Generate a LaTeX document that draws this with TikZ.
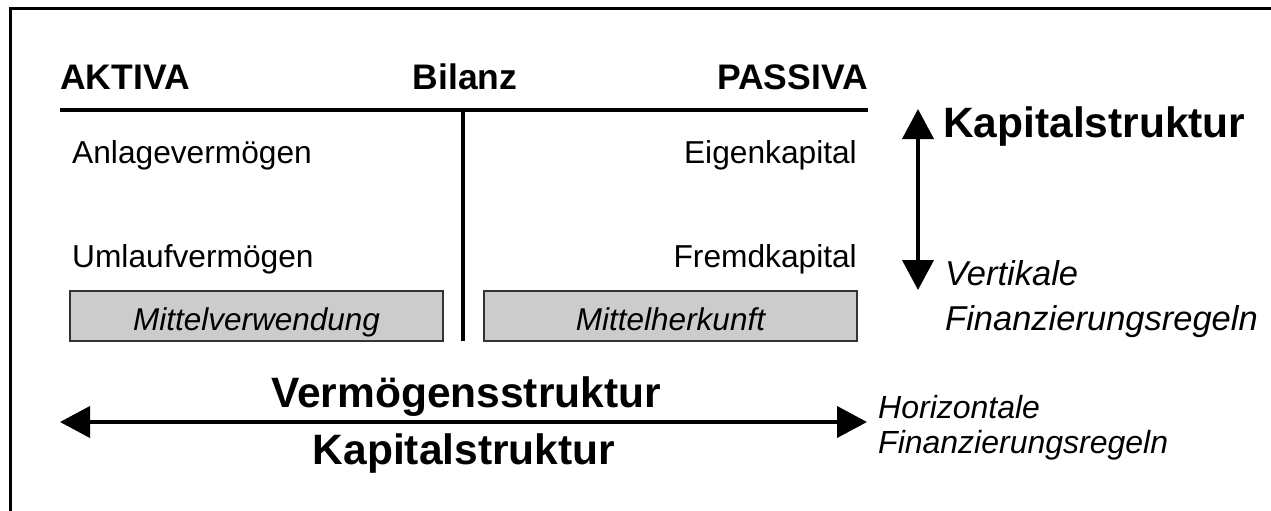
\documentclass[tikz,border=0pt]{standalone}
\usepackage{fontspec}
\setmainfont{Liberation Sans}
\usepackage{tikz}
\usetikzlibrary{arrows.meta,positioning}

\begin{document}
\begin{tikzpicture}[
    x=1pt, y=-1pt,
    head/.style={font=\fontsize{35.5}{40}\selectfont\bfseries, inner sep=0pt},
    item/.style={font=\fontsize{31.7}{36}\selectfont, inner sep=0pt},
    greybox/.style={rectangle, draw=black!80, line width=1.2pt, fill=gray!40, minimum width=373pt, minimum height=50pt, inner sep=0pt, text height=29pt, text depth=0pt, font=\fontsize{31.5}{36}\selectfont\itshape},
    big/.style={font=\fontsize{42.5}{46}\selectfont\bfseries, inner sep=0pt},
    rule/.style={font=\fontsize{32}{35}\selectfont\itshape, align=left, inner sep=0pt},
    dblarrow/.style={{Triangle[width=31pt,length=30pt]}-{Triangle[width=31pt,length=30pt]}, line width=4pt}
]
\useasboundingbox (0,0) rectangle (1271,511);
\draw[line width=3pt] (10.5,8.5) rectangle (1290,530);

% Kontenkopf
\node[head, anchor=base west] (aktiva) at (60,89) {AKTIVA};
\node[head, anchor=base] (bilanz) at (465,89) {Bilanz};
\node[head, anchor=base east] (passiva) at (868,89) {PASSIVA};
\coordinate (kl) at (60,110);
\coordinate (kr) at (868,110);
\coordinate (mt) at (463,110);
\coordinate (mb) at (463,341);
\draw[line width=4pt] (kl) -- (kr);
\draw[line width=3.5pt] (mt) -- (mb);

% Positionen
\node[item, anchor=base west] (av) at (72,163) {Anlagevermögen};
\node[item, anchor=base west] (uv) at (72,267) {Umlaufvermögen};
\node[item, anchor=base east] (ek) at (857,163) {Eigenkapital};
\node[item, anchor=base east] (fk) at (857,267) {Fremdkapital};

% Mittel
\node[greybox] (verwendung) at (256.5,316) {Mittelverwendung};
\node[greybox] (herkunft) at (670.5,316) {Mittelherkunft};

% vertikal
\coordinate (vtop) at (918,109);
\coordinate (vbot) at (918,290);
\draw[dblarrow] (vbot) -- (vtop);
\node[big, anchor=base west] (kapv) at (943,137) {Kapitalstruktur};
\node[rule, font=\fontsize{34.5}{45}\selectfont\itshape, anchor=north west] (vert) at (945,260) {Vertikale\\Finanzierungsregeln};

% horizontal
\coordinate (hl) at (60,422);
\coordinate (hr) at (867,422);
\draw[dblarrow] (hl) -- (hr);
\node[big, anchor=base] (verm) at (466,407) {Vermögensstruktur};
\node[big, anchor=base] (kaph) at (464,464) {Kapitalstruktur};
\node[rule, anchor=north west] (horiz) at (878,395) {Horizontale\\Finanzierungsregeln};

\end{tikzpicture}
\end{document}
